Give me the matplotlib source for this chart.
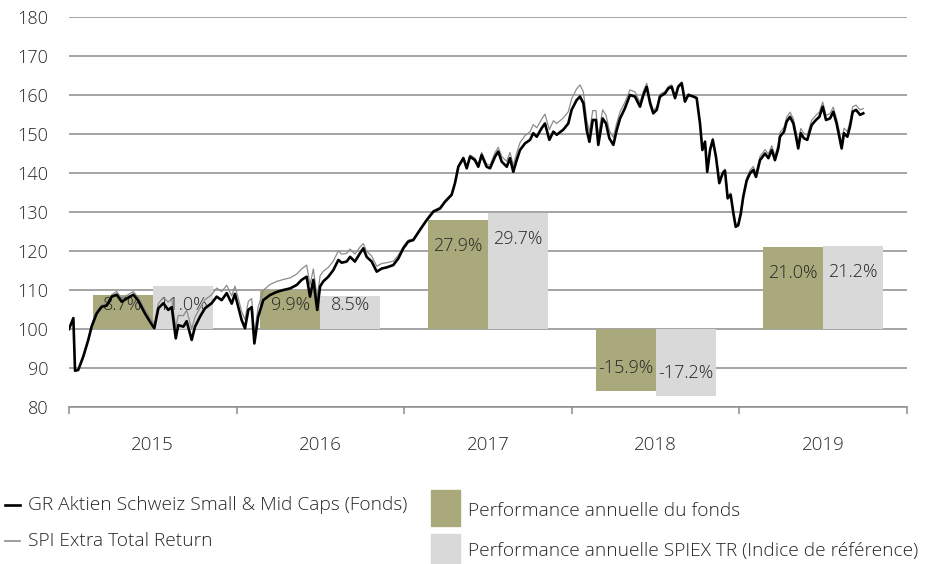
import numpy as np
import matplotlib.pyplot as plt
from matplotlib.lines import Line2D
from matplotlib.patches import Rectangle

plt.rcParams['font.family'] = ['Open Sans', 'DejaVu Sans']
plt.rcParams['font.weight'] = 'light'

# dates en années décimales
dates = [
    2015.000, 2015.026, 2015.036, 2015.055, 2015.085, 2015.115, 2015.135, 2015.165, 2015.195, 2015.225,
    2015.255, 2015.285, 2015.314, 2015.344, 2015.384, 2015.413, 2015.453, 2015.483, 2015.509, 2015.533,
    2015.563, 2015.592, 2015.613, 2015.637, 2015.652, 2015.682, 2015.702, 2015.732, 2015.752, 2015.782,
    2015.811, 2015.851, 2015.881, 2015.911, 2015.941, 2015.971, 2015.990, 2016.010, 2016.030, 2016.050,
    2016.070, 2016.090, 2016.106, 2016.129, 2016.159, 2016.199, 2016.239, 2016.279, 2016.319, 2016.359,
    2016.388, 2016.418, 2016.438, 2016.458, 2016.481, 2016.498, 2016.517, 2016.547, 2016.577, 2016.607,
    2016.627, 2016.657, 2016.677, 2016.706, 2016.736, 2016.756, 2016.776, 2016.806, 2016.836, 2016.866,
    2016.896, 2016.935, 2016.965, 2016.995, 2017.024, 2017.054, 2017.094, 2017.134, 2017.174, 2017.214,
    2017.243, 2017.283, 2017.303, 2017.323, 2017.353, 2017.373, 2017.393, 2017.422, 2017.442, 2017.462,
    2017.492, 2017.512, 2017.542, 2017.561, 2017.582, 2017.612, 2017.631, 2017.651, 2017.671, 2017.691,
    2017.721, 2017.751, 2017.770, 2017.791, 2017.820, 2017.840, 2017.866, 2017.890, 2017.910, 2017.949,
    2017.979, 2017.999, 2018.029, 2018.049, 2018.069, 2018.089, 2018.105, 2018.125, 2018.144, 2018.158,
    2018.184, 2018.204, 2018.224, 2018.248, 2018.268, 2018.288, 2018.317, 2018.347, 2018.377, 2018.407,
    2018.427, 2018.447, 2018.467, 2018.486, 2018.507, 2018.526, 2018.556, 2018.576, 2018.596, 2018.616,
    2018.635, 2018.656, 2018.675, 2018.695, 2018.725, 2018.745, 2018.765, 2018.779, 2018.795, 2018.808,
    2018.825, 2018.841, 2018.860, 2018.880, 2018.900, 2018.914, 2018.930, 2018.948, 2018.964, 2018.978,
    2018.993, 2019.008, 2019.023, 2019.043, 2019.063, 2019.083, 2019.099, 2019.123, 2019.153, 2019.173,
    2019.193, 2019.212, 2019.232, 2019.242, 2019.266, 2019.282, 2019.302, 2019.322, 2019.338, 2019.351,
    2019.366, 2019.385, 2019.405, 2019.431, 2019.457, 2019.477, 2019.497, 2019.517, 2019.541, 2019.560,
    2019.580, 2019.596, 2019.610, 2019.624, 2019.644, 2019.660, 2019.676, 2019.696, 2019.720, 2019.739,
]

# GR Aktien Schweiz Small & Mid Caps (Fonds)
fonds = [
    100.0, 102.8, 89.3, 89.5, 92.9, 97.2, 100.6, 104.0, 105.7, 106.0,
    108.3, 108.8, 107.0, 107.8, 108.8, 107.3, 104.0, 101.9, 100.2, 105.3,
    106.6, 104.9, 105.6, 97.6, 101.0, 100.6, 102.0, 97.2, 100.6, 103.2,
    105.3, 106.6, 108.3, 107.4, 109.2, 106.5, 109.0, 105.7, 102.3, 100.2,
    104.9, 105.6, 96.3, 103.2, 107.4, 108.7, 109.5, 110.0, 110.4, 111.3,
    112.6, 113.4, 108.3, 112.6, 104.9, 110.9, 112.2, 113.4, 115.1, 117.7,
    117.0, 117.3, 118.5, 117.3, 119.4, 120.7, 118.5, 117.3, 114.7, 115.5,
    115.8, 116.4, 118.1, 120.7, 122.4, 122.8, 125.4, 127.9, 130.1, 130.9,
    132.6, 134.4, 137.4, 141.6, 143.8, 141.2, 144.2, 143.3, 141.6, 144.6,
    141.6, 141.2, 144.2, 145.5, 142.9, 141.6, 143.8, 140.3, 143.3, 145.9,
    147.6, 148.5, 150.2, 149.3, 151.5, 152.7, 148.5, 150.6, 149.8, 151.1,
    152.7, 156.2, 158.7, 159.6, 157.9, 151.0, 148.0, 153.6, 153.6, 147.2,
    154.0, 152.7, 148.9, 147.2, 151.0, 154.0, 156.6, 160.0, 159.6, 157.0,
    160.0, 162.1, 157.9, 155.3, 156.2, 159.6, 160.4, 161.7, 162.1, 159.2,
    162.1, 163.0, 158.3, 160.0, 159.6, 159.2, 152.7, 145.9, 148.0, 140.3,
    145.9, 148.5, 144.2, 137.4, 139.9, 140.6, 133.5, 134.4, 129.7, 126.2,
    126.6, 129.5, 133.9, 138.0, 139.9, 140.8, 139.0, 143.3, 145.0, 143.8,
    145.9, 143.3, 146.3, 149.3, 150.6, 153.2, 154.4, 152.7, 149.3, 146.3,
    150.2, 148.9, 148.5, 152.3, 153.6, 154.4, 157.0, 153.6, 154.0, 155.7,
    152.7, 149.3, 146.3, 150.2, 149.3, 151.9, 155.7, 156.2, 154.9, 155.3,
]

# SPI Extra Total Return
indice = [
    100.0, 102.8, 89.3, 89.5, 93.2, 97.5, 101.1, 104.5, 106.2, 106.5,
    108.8, 109.6, 107.8, 108.6, 109.6, 108.1, 105.0, 102.9, 101.4, 106.5,
    108.1, 106.9, 107.6, 100.3, 103.5, 103.4, 104.8, 100.0, 103.1, 105.4,
    107.5, 108.8, 110.5, 109.6, 111.2, 108.5, 111.0, 107.9, 104.5, 102.4,
    107.1, 107.8, 98.8, 105.7, 109.9, 111.4, 112.2, 112.7, 113.1, 114.1,
    115.4, 116.4, 111.3, 115.4, 107.9, 113.6, 114.8, 115.8, 117.4, 120.0,
    119.2, 119.4, 120.5, 119.2, 121.0, 121.9, 119.9, 118.7, 116.1, 116.8,
    117.0, 117.4, 118.9, 121.2, 122.8, 123.1, 125.7, 128.2, 130.4, 131.2,
    132.9, 134.7, 137.7, 141.9, 144.1, 141.6, 144.6, 143.8, 142.1, 145.3,
    142.3, 142.0, 145.2, 146.6, 144.2, 143.0, 145.3, 142.0, 145.1, 147.8,
    149.6, 150.6, 152.4, 151.6, 153.8, 155.1, 151.1, 153.4, 152.7, 154.1,
    155.7, 159.0, 161.6, 162.6, 160.8, 153.6, 150.5, 156.0, 156.0, 149.5,
    156.2, 154.8, 150.9, 149.1, 152.8, 155.7, 158.1, 161.3, 160.8, 158.1,
    161.0, 163.0, 158.8, 156.1, 156.9, 160.2, 160.9, 162.2, 162.6, 159.6,
    162.5, 163.4, 158.6, 160.3, 159.9, 159.4, 152.9, 146.2, 148.3, 140.6,
    146.3, 148.9, 144.6, 137.8, 140.3, 141.0, 134.0, 134.9, 130.2, 126.7,
    127.1, 130.1, 134.5, 138.7, 140.7, 141.7, 139.9, 144.3, 146.0, 144.9,
    147.0, 144.4, 147.4, 150.4, 151.7, 154.3, 155.6, 153.9, 150.5, 147.5,
    151.4, 150.1, 149.7, 153.5, 154.8, 155.6, 158.2, 154.8, 155.2, 156.9,
    153.9, 150.6, 147.8, 151.5, 150.6, 153.2, 157.0, 157.4, 156.2, 156.5,
]

annees = [2015, 2016, 2017, 2018, 2019]
perf_fonds = [8.7, 9.9, 27.9, -15.9, 21.0]
perf_indice = [11.0, 8.5, 29.7, -17.2, 21.2]

olive = '#A9A97C'
gris_barre = '#D9D9D9'
gris_grille = '#8C8C8C'
texte = '#262626'

fig = plt.figure(figsize=(9.31, 5.64), dpi=100)
ax = fig.add_axes([69/931, 1 - 407/564, (907 - 69)/931, (407 - 17)/564])

# barres de performance annuelle (base 100)
larg = 0.358
x_fonds = np.array(annees) + 0.5 - larg
x_indice = np.array(annees) + 0.5
ax.bar(x_fonds, perf_fonds, width=larg, bottom=100, align='edge', color=olive, zorder=2)
ax.bar(x_indice, perf_indice, width=larg, bottom=100, align='edge', color=gris_barre, zorder=2)

for xs, vals in [(x_fonds, perf_fonds), (x_indice, perf_indice)]:
    for x0, v in zip(xs, vals):
        if v > 0:
            y = 100 + max(v - 6.6, 6.1)
        else:
            y = 100 + v + 6.0
        ax.text(x0 + larg/2, y, f"{v:.1f}%", ha='center', va='center',
                fontsize=13, color=texte, zorder=3)

# courbes
ax.plot(dates, indice, color='#8C8C8C', linewidth=0.9, zorder=4)
ax.plot(dates, fonds, color='black', linewidth=1.9, zorder=5)

ax.set_xlim(2015, 2020)
ax.set_ylim(80, 180)
ax.set_yticks(np.arange(80, 181, 10))
ax.grid(axis='y', color=gris_grille, linewidth=1.1, zorder=0)
ax.set_axisbelow(True)
for s in ['top', 'right', 'left']:
    ax.spines[s].set_visible(False)
ax.spines['bottom'].set_color(gris_grille)
ax.spines['bottom'].set_linewidth(1.1)

ax.tick_params(axis='y', length=0, pad=15, labelsize=13, labelcolor=texte)
ax.set_xticks(np.arange(2015, 2021, 1))
ax.set_xticklabels([])
ax.tick_params(axis='x', which='major', length=5, width=1.1, color=gris_grille, direction='out')
ax.set_xticks(np.array(annees) + 0.5, minor=True)
ax.set_xticklabels([str(a) for a in annees], minor=True)
ax.tick_params(axis='x', which='minor', length=0, pad=21, labelsize=13.5, labelcolor=texte)

# légende
def fx(px):
    return px / 931

def fy(py):
    return 1 - py / 564

fig.add_artist(Line2D([fx(5), fx(20)], [fy(505), fy(505)], color='black', linewidth=1.9))
fig.add_artist(Line2D([fx(5), fx(20)], [fy(541), fy(541)], color='#8C8C8C', linewidth=1.2))
fig.text(fx(28), fy(505), "GR Aktien Schweiz Small & Mid Caps (Fonds)", ha='left', va='center',
         fontsize=13.8, color=texte)
fig.text(fx(28), fy(541), "SPI Extra Total Return", ha='left', va='center', fontsize=13.8, color=texte)
fig.add_artist(Rectangle((fx(431), fy(526)), fx(460) - fx(431), fy(490) - fy(526),
                         transform=fig.transFigure, color=olive))
fig.add_artist(Rectangle((fx(431), fy(566)), fx(460) - fx(431), fy(534) - fy(566),
                         transform=fig.transFigure, color=gris_barre))
fig.text(fx(468), fy(511), "Performance annuelle du fonds", ha='left', va='center',
         fontsize=13.8, color=texte)
fig.text(fx(468), fy(551), "Performance annuelle SPIEX TR (Indice de référence)", ha='left',
         va='center', fontsize=13.8, color=texte)

fig.savefig('out.png', dpi=100)
